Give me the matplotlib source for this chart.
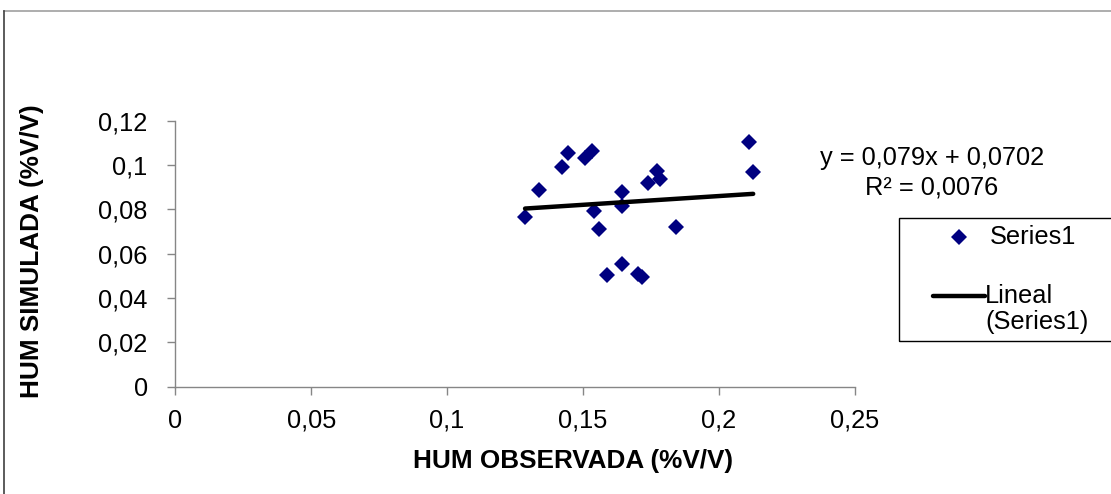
import matplotlib
matplotlib.use("Agg")
import matplotlib.pyplot as plt
from matplotlib.lines import Line2D
from matplotlib.patches import Rectangle
import numpy as np

# Data
hum_observada = [0.1287, 0.1338, 0.1424, 0.1444, 0.1508, 0.1532, 0.1541, 0.1560,
                 0.1589, 0.1643, 0.1643, 0.1643, 0.1704, 0.1719, 0.1739, 0.1773,
                 0.1783, 0.1844, 0.2110, 0.2127]
hum_simulada = [0.0767, 0.0887, 0.0991, 0.1054, 0.1030, 0.1063, 0.0793, 0.0711,
                0.0504, 0.0880, 0.0817, 0.0554, 0.0508, 0.0494, 0.0920, 0.0973,
                0.0937, 0.0719, 0.1103, 0.0967]
trend_slope = 0.079
trend_intercept = 0.0702
x_ticks = [0, 0.05, 0.1, 0.15, 0.2, 0.25]
x_ticklabels = ["0", "0,05", "0,1", "0,15", "0,2", "0,25"]
y_ticks = [0, 0.02, 0.04, 0.06, 0.08, 0.1, 0.12]
y_ticklabels = ["0", "0,02", "0,04", "0,06", "0,08", "0,1", "0,12"]
equation_lines = ["y = 0,079x + 0,0702", "R² = 0,0076"]
series_label = "Series1"
trend_label_lines = ["Lineal", "(Series1)"]

plt.rcParams['font.family'] = ['Liberation Sans', 'DejaVu Sans']
FS = 18.3
FS_LABEL = 18.8

W, H = 1111, 494
fig = plt.figure(figsize=(W / 100, H / 100), dpi=100)

def fx(px):
    return px / W

def fy(py):
    return 1 - py / H

MARKER_COLOR = '#000080'

ax = fig.add_axes([fx(175.5), fy(386.7), fx(854.5) - fx(175.5), fy(120.7) - fy(386.7)])
ax.set_xlim(0, 0.25)
ax.set_ylim(0, 0.12)

ax.plot(hum_observada, hum_simulada, linestyle='none', marker='D',
        markersize=7.9, color=MARKER_COLOR, markeredgewidth=0,
        clip_on=False, zorder=3)
xt = np.array([min(hum_observada), max(hum_observada)])
ax.plot(xt, trend_slope * xt + trend_intercept, color='black', lw=3.2,
        solid_capstyle='round', zorder=4)

for s in ['top', 'right']:
    ax.spines[s].set_visible(False)
for s in ['left', 'bottom']:
    ax.spines[s].set_color('#868686')
    ax.spines[s].set_linewidth(1.0)

ax.set_xticks(x_ticks)
ax.set_xticklabels(x_ticklabels)
ax.set_yticks(y_ticks)
ax.set_yticklabels(y_ticklabels)
ax.tick_params(axis='both', direction='out', length=6, width=1.0,
               color='#868686', labelsize=FS, labelcolor='black')
ax.tick_params(axis='x', pad=10)
ax.tick_params(axis='y', pad=14)

ax.set_xlabel("HUM OBSERVADA (%V/V)", fontsize=FS_LABEL, fontweight='bold')
ax.set_ylabel("HUM SIMULADA (%V/V)", fontsize=FS_LABEL, fontweight='bold')
ax.yaxis.set_label_coords(fx(32), 0.5 * (fy(116) + fy(386.7)), transform=fig.transFigure)
ax.xaxis.set_label_coords(fx(573), fy(461), transform=fig.transFigure)
ax.xaxis.label.set_va('center')
ax.yaxis.label.set_va('center')

# trendline equation
fig.text(fx(932), fy(158), equation_lines[0], fontsize=FS, ha='center', va='center')
fig.text(fx(932), fy(187), equation_lines[1], fontsize=FS, ha='center', va='center')

# legend (Excel style, box runs off the right edge)
fig.add_artist(Rectangle((fx(899), fy(341.5)), 1.2 - fx(899), fy(218.5) - fy(341.5),
                         transform=fig.transFigure, fill=False, edgecolor='black',
                         lw=1.0))
fig.add_artist(Line2D([fx(959)], [fy(237)], marker='D', markersize=7.9,
                      color=MARKER_COLOR, markeredgewidth=0, linestyle='none',
                      transform=fig.transFigure))
fig.text(fx(990), fy(237), series_label, fontsize=FS, ha='left', va='center')
fig.add_artist(Line2D([fx(933), fx(985)], [fy(296), fy(296)], color='black', lw=3.2,
                      solid_capstyle='round', transform=fig.transFigure))
fig.text(fx(985), fy(296), trend_label_lines[0], fontsize=FS, ha='left', va='center')
fig.text(fx(985), fy(322), trend_label_lines[1], fontsize=FS, ha='left', va='center')

# outer chart-area border (partially visible)
fig.add_artist(Line2D([fx(4), 1.01], [fy(11), fy(11)], color='#a0a0a0', lw=1.2,
                      transform=fig.transFigure))
fig.add_artist(Line2D([fx(4), fx(4)], [fy(11), -0.01], color='#404040', lw=1.2,
                      transform=fig.transFigure))

fig.savefig("out.png", dpi=100)
